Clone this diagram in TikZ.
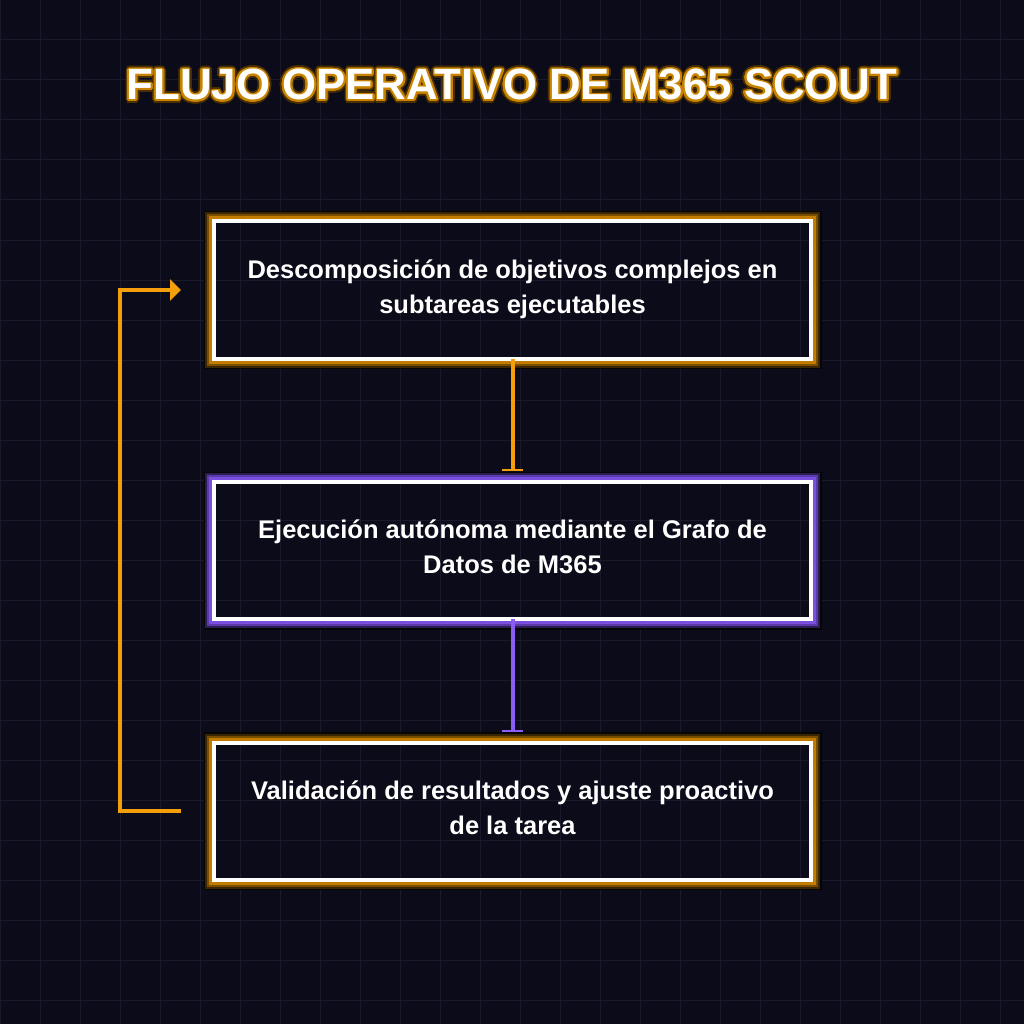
\documentclass[tikz,border=0pt]{standalone}
\usepackage{fontspec}
\setmainfont{Liberation Sans}
\usepackage{contour}
\contournumber{24}
\usetikzlibrary{arrows.meta,calc}
\definecolor{bgc}{HTML}{0B0B19}
\definecolor{gridc}{HTML}{1A1A2C}
\definecolor{accorange}{HTML}{F59E0B}
\definecolor{accpurple}{HTML}{8B5CF6}
\definecolor{oglowA}{HTML}{C27C00}
\definecolor{oglowB}{HTML}{7A4E00}
\definecolor{oglowC}{HTML}{3A2600}
\definecolor{pglowA}{HTML}{7A4FE0}
\definecolor{pglowB}{HTML}{5A3AA8}
\definecolor{pglowC}{HTML}{2A1C55}
\definecolor{glowblack}{HTML}{050505}
\definecolor{tglowA}{HTML}{C88400}
\definecolor{tglowB}{HTML}{4A3000}
\newcommand{\mystrutA}{\rule{0pt}{26pt}}
\newcommand{\mystrutB}{\rule[-15pt]{0pt}{15pt}}
\newcommand{\glowframe}[4]{%
  \draw[#2, line width=3pt] ($(#1.north west)+(-3.5,-3.5)$) rectangle ($(#1.south east)+(3.5,3.5)$);
  \draw[#3, line width=2pt] ($(#1.north west)+(-6,-6)$) rectangle ($(#1.south east)+(6,6)$);
  \draw[#4, line width=2pt] ($(#1.north west)+(-8,-8)$) rectangle ($(#1.south east)+(8,8)$);
  \draw[glowblack, line width=1.5pt] ($(#1.north west)+(-9.75,-9.75)$) rectangle ($(#1.south east)+(9.75,9.75)$);
}
\newcommand{\titletext}{FLUJO OPERATIVO DE M365 SCOUT}
\begin{document}
\begin{tikzpicture}[x=1pt,y=-1pt,
  gridline/.style={draw=gridc, line width=1pt},
  box/.style={draw=white, line width=4pt, minimum width=597pt, minimum height=137pt,
    inner sep=0pt, outer sep=0pt, align=center, text=white,
    font=\bfseries\fontsize{25.5}{35}\selectfont},
  conn/.style={line width=4pt},
  titlestyle/.style={anchor=base, text=white, inner sep=0pt,
    font=\bfseries\fontsize{43.8}{50}\selectfont}]
\fill[bgc] (0,0) rectangle (1024,1024);
\useasboundingbox (0,0) rectangle (1024,1024);
\foreach \i in {0,40,...,1000} {
  \draw[gridline] (\i,0) -- (\i,1024);
  \draw[gridline] (0,\i) -- (1024,\i);
}
\node[titlestyle] (title) at (512,100)
  {{\contourlength{3.6pt}\rlap{\contour{tglowB}{\titletext}}}{\contourlength{1.8pt}\contour{tglowA}{\titletext}}};

\node[box] (b1) at (512.5,290) {\mystrutA Descomposición de objetivos complejos en\\subtareas ejecutables\mystrutB};
\node[box] (b2) at (512.5,550.5) {\mystrutA Ejecución autónoma mediante el Grafo de\\Datos de M365\mystrutB};
\node[box] (b3) at (512.5,811) {\mystrutA Validación de resultados y ajuste proactivo\\de la tarea\mystrutB};

\glowframe{b1}{oglowA}{oglowB}{oglowC}
\glowframe{b2}{pglowA}{pglowB}{pglowC}
\glowframe{b3}{oglowA}{oglowB}{oglowC}

\draw[conn, accorange, -{Bar[width=21pt,line width=2pt]}, shorten >=11pt] (b1.south) -- (b2.north);
\draw[conn, accpurple, -{Bar[width=21pt,line width=2pt]}, shorten >=11pt] (b2.south) -- (b3.north);
\draw[conn, accorange, -{Triangle[length=11pt,width=21pt]}, shorten <=33pt, shorten >=33pt]
  (b3.west) -- ++(-94,0) |- (b1.west);
\end{tikzpicture}
\end{document}
